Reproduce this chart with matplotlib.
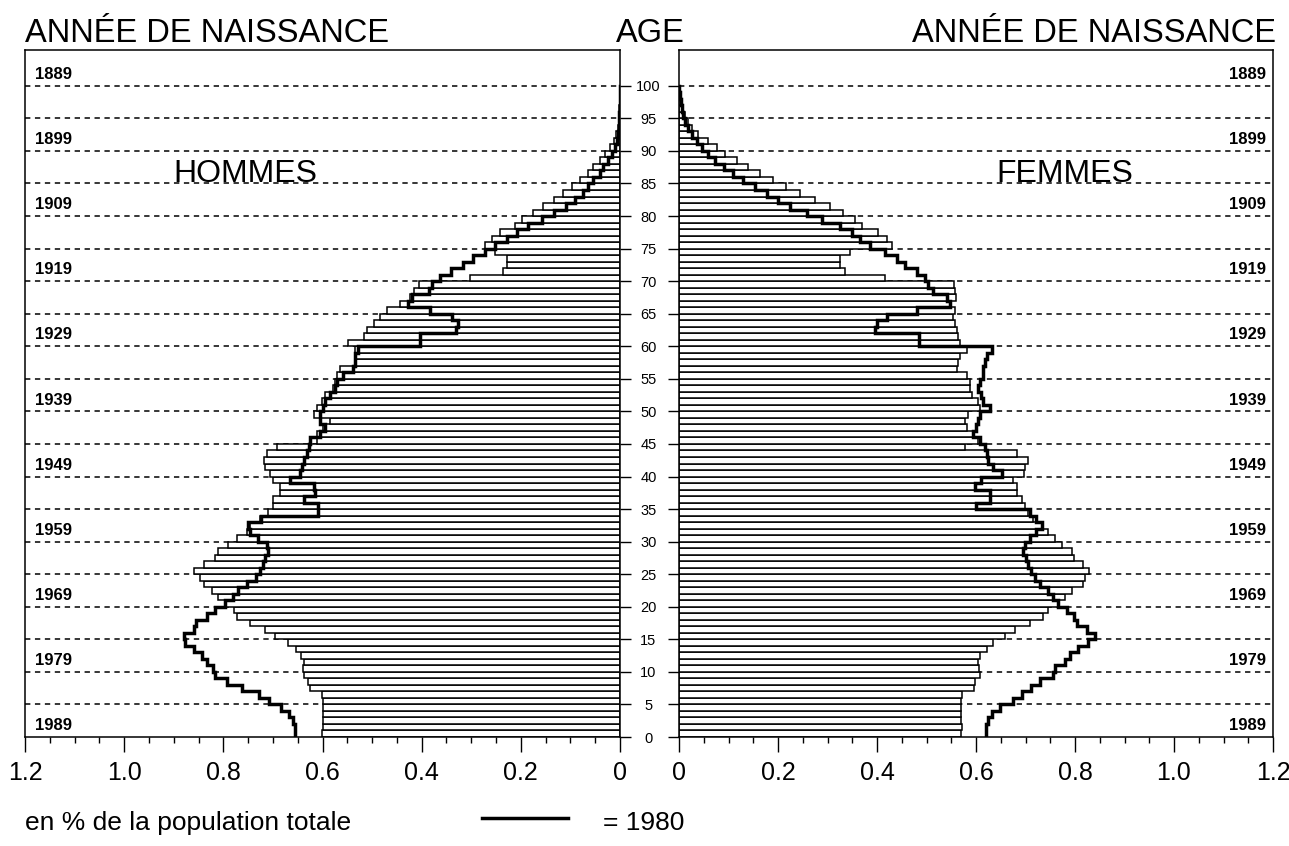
import numpy as np
import matplotlib.pyplot as plt
from matplotlib.lines import Line2D

plt.rcParams['font.family'] = ['Liberation Sans', 'DejaVu Sans']

ages = np.arange(100)

# % de la population totale, par âge (barres = 1990, trait = 1980)
hommes_1990 = [
    0.601, 0.600, 0.598, 0.598, 0.598, 0.600, 0.601, 0.625, 0.630, 0.638,
    0.640, 0.637, 0.643, 0.653, 0.670, 0.695, 0.716, 0.746, 0.773, 0.778,
    0.794, 0.810, 0.823, 0.840, 0.847, 0.860, 0.840, 0.817, 0.810, 0.790,
    0.773, 0.752, 0.746, 0.726, 0.709, 0.699, 0.699, 0.685, 0.685, 0.699,
    0.706, 0.716, 0.718, 0.712, 0.692, 0.611, 0.611, 0.598, 0.585, 0.617,
    0.611, 0.601, 0.595, 0.578, 0.575, 0.571, 0.565, 0.534, 0.534, 0.534,
    0.548, 0.516, 0.511, 0.497, 0.484, 0.470, 0.444, 0.423, 0.416, 0.406,
    0.302, 0.235, 0.228, 0.228, 0.252, 0.272, 0.259, 0.242, 0.211, 0.198,
    0.175, 0.155, 0.134, 0.114, 0.097, 0.081, 0.064, 0.054, 0.040, 0.030,
    0.020, 0.013, 0.008, 0.005, 0.003, 0.002, 0.0015, 0.001, 0.0006, 0.0004,
]
hommes_1980 = [
    0.655, 0.655, 0.660, 0.667, 0.684, 0.708, 0.728, 0.762, 0.793, 0.817,
    0.820, 0.833, 0.843, 0.860, 0.877, 0.880, 0.860, 0.856, 0.833, 0.817,
    0.796, 0.780, 0.770, 0.752, 0.735, 0.726, 0.720, 0.716, 0.710, 0.712,
    0.730, 0.746, 0.750, 0.725, 0.610, 0.610, 0.638, 0.615, 0.618, 0.665,
    0.645, 0.642, 0.638, 0.632, 0.628, 0.625, 0.605, 0.595, 0.605, 0.605,
    0.598, 0.595, 0.585, 0.575, 0.571, 0.558, 0.538, 0.534, 0.534, 0.528,
    0.403, 0.403, 0.330, 0.326, 0.339, 0.383, 0.427, 0.420, 0.386, 0.380,
    0.363, 0.340, 0.316, 0.296, 0.272, 0.252, 0.228, 0.208, 0.185, 0.158,
    0.134, 0.108, 0.091, 0.074, 0.064, 0.054, 0.040, 0.034, 0.025, 0.017,
    0.010, 0.007, 0.005, 0.003, 0.002, 0.0015, 0.001, 0.0007, 0.0004, 0.0002,
]
femmes_1990 = [
    0.570, 0.571, 0.570, 0.569, 0.570, 0.570, 0.572, 0.595, 0.598, 0.608,
    0.607, 0.605, 0.608, 0.622, 0.635, 0.659, 0.679, 0.709, 0.736, 0.746,
    0.766, 0.780, 0.794, 0.817, 0.820, 0.829, 0.817, 0.797, 0.794, 0.773,
    0.760, 0.745, 0.733, 0.716, 0.706, 0.699, 0.692, 0.682, 0.682, 0.675,
    0.696, 0.699, 0.706, 0.682, 0.578, 0.605, 0.594, 0.581, 0.578, 0.584,
    0.608, 0.605, 0.591, 0.588, 0.588, 0.581, 0.561, 0.564, 0.568, 0.581,
    0.568, 0.564, 0.561, 0.557, 0.554, 0.557, 0.550, 0.560, 0.558, 0.556,
    0.416, 0.335, 0.325, 0.325, 0.345, 0.430, 0.420, 0.403, 0.369, 0.356,
    0.332, 0.305, 0.275, 0.245, 0.217, 0.190, 0.164, 0.140, 0.117, 0.093,
    0.076, 0.059, 0.039, 0.026, 0.019, 0.012, 0.008, 0.005, 0.003, 0.002,
]
femmes_1980 = [
    0.620, 0.621, 0.625, 0.632, 0.648, 0.675, 0.692, 0.712, 0.729, 0.756,
    0.760, 0.780, 0.790, 0.807, 0.827, 0.840, 0.824, 0.804, 0.797, 0.783,
    0.766, 0.756, 0.746, 0.729, 0.719, 0.712, 0.705, 0.702, 0.694, 0.699,
    0.709, 0.722, 0.733, 0.722, 0.710, 0.601, 0.628, 0.628, 0.598, 0.610,
    0.652, 0.635, 0.625, 0.622, 0.618, 0.608, 0.594, 0.601, 0.604, 0.608,
    0.628, 0.615, 0.611, 0.604, 0.608, 0.615, 0.615, 0.618, 0.622, 0.632,
    0.484, 0.484, 0.396, 0.399, 0.420, 0.480, 0.547, 0.541, 0.514, 0.504,
    0.497, 0.480, 0.457, 0.440, 0.416, 0.386, 0.366, 0.349, 0.325, 0.288,
    0.258, 0.224, 0.200, 0.177, 0.153, 0.130, 0.110, 0.090, 0.073, 0.059,
    0.046, 0.036, 0.026, 0.019, 0.012, 0.009, 0.006, 0.004, 0.002, 0.001,
]

annees = [1889, 1899, 1909, 1919, 1929, 1939, 1949, 1959, 1969, 1979, 1989]
age_ticks = list(range(0, 101, 5))
x_major = [0, 0.2, 0.4, 0.6, 0.8, 1.0, 1.2]
x_labels = ["0", "0.2", "0.4", "0.6", "0.8", "1.0", "1.2"]

W, H = 1289, 846
fig = plt.figure(figsize=(W / 100, H / 100), dpi=100)
ax1 = fig.add_axes([25 / W, (H - 737) / H, 595 / W, 687 / H])
ax2 = fig.add_axes([679 / W, (H - 737) / H, 594 / W, 687 / H])


def step_xy(vals):
    x = np.repeat(vals, 2)
    y = np.column_stack([ages, ages + 1]).ravel()
    return x, y


for ax, bars, line in [(ax1, hommes_1990, hommes_1980), (ax2, femmes_1990, femmes_1980)]:
    for a in age_ticks[1:]:
        ax.axhline(a, color='black', lw=1.1, ls=(0, (3.5, 3)), zorder=1)
    ax.barh(ages, bars, height=1, align='edge', color='white',
            edgecolor='black', linewidth=1.1, zorder=2)
    lx, ly = step_xy(line)
    ax.plot(lx, ly, color='black', lw=2.5, solid_joinstyle='miter', zorder=3)
    ax.set_ylim(0, 105.5)
    ax.set_xticks(x_major)
    ax.set_xticklabels(x_labels, fontsize=18)
    ax.set_xticks(np.arange(0, 1.2001, 0.05), minor=True)
    ax.tick_params(axis='x', which='major', direction='out', length=11, width=1, pad=6)
    ax.tick_params(axis='x', which='minor', direction='out', length=4, width=1)
    for s in ax.spines.values():
        s.set_linewidth(1.1)

ax1.set_xlim(1.2, 0)
ax2.set_xlim(0, 1.2)

ax1.yaxis.tick_right()
ax1.set_yticks(age_ticks)
ax1.tick_params(axis='y', direction='out', length=8, width=1, labelright=False)

ax2.set_yticks(age_ticks)
ax2.set_yticklabels([str(a) for a in age_ticks], fontsize=10.5)
ax2.tick_params(axis='y', direction='out', length=8, width=1, pad=14)
for t in ax2.get_yticklabels():
    t.set_horizontalalignment('center')

# années de naissance
for an in annees:
    age = 1989 - an
    ax1.text(1.18, age + 0.6, str(an), ha='left', va='bottom',
             fontsize=12, fontweight='bold')
    ax2.text(1.185, age + 0.6, str(an), ha='right', va='bottom',
             fontsize=12, fontweight='bold')

ax1.text(0.755, 86.5, "HOMMES", ha='center', va='center', fontsize=23)
ax2.text(0.78, 86.5, "FEMMES", ha='center', va='center', fontsize=23)

fig.text(25 / W, 1 - 33 / H, "ANNÉE DE NAISSANCE", ha='left', va='center', fontsize=23.5)
fig.text(650 / W, 1 - 33 / H, "AGE", ha='center', va='center', fontsize=23.5)
fig.text(1276 / W, 1 - 33 / H, "ANNÉE DE NAISSANCE", ha='right', va='center', fontsize=23.5)

fig.text(25 / W, 1 - 823 / H, "en % de la population totale", ha='left', va='center', fontsize=19)
fig.add_artist(Line2D([482 / W, 568 / W], [1 - 818 / H, 1 - 818 / H], color='black', lw=2.5))
fig.text(603 / W, 1 - 823 / H, "= 1980", ha='left', va='center', fontsize=19)

fig.savefig("out.png", dpi=100)
